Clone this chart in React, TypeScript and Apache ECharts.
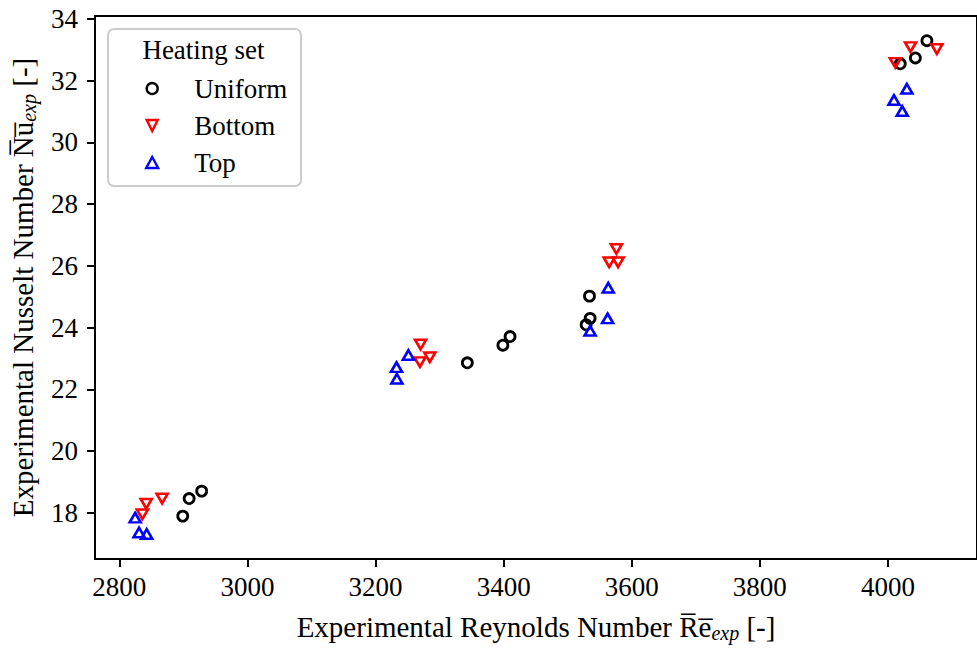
import React, { useEffect, useRef } from "react";
import * as echarts from "echarts";

const xTicks = [2800, 3000, 3200, 3400, 3600, 3800, 4000];
const yTicks = [18, 20, 22, 24, 26, 28, 30, 32, 34];

const reUniform = [2928.5, 2909, 2899, 3343.3, 3398.8, 3410, 3534, 3535, 3528.8, 4060.8, 4042.8, 4019.2];
const nuUniform = [18.7, 18.46, 17.89, 22.86, 23.43, 23.71, 25.02, 24.3, 24.09, 33.3, 32.74, 32.55];

const reBottom = [2866.8, 2842, 2836, 3270.3, 3269.3, 3284.7, 3576, 3564.8, 3578.7, 4035.2, 4076.3, 4011.5];
const nuBottom = [18.46, 18.29, 17.95, 23.45, 22.88, 23.04, 26.55, 26.12, 26.12, 33.09, 33.03, 32.58];

const reTop = [2824.7, 2830.8, 2842.7, 3251.3, 3232.7, 3233.3, 3563.3, 3562.3, 3535, 4029.5, 4009.4, 4022.3];
const nuTop = [17.84, 17.36, 17.31, 23.11, 22.72, 22.34, 25.29, 24.3, 23.9, 31.74, 31.38, 31.02];

const FONT = "Liberation Serif";
const FS = 27;
const NFS = 29;

function pairs(xs: number[], ys: number[]) {
  return xs.map((x, i) => [x, ys[i]]);
}

export default function App() {
  const ref = useRef<HTMLDivElement>(null);
  useEffect(() => {
    document.body.style.margin = "0";
    const chart = echarts.init(ref.current!, null, { renderer: "svg" });
    const sub = { fontFamily: FONT, fontSize: 20, fontStyle: "italic" as const, padding: [13, 0, 0, 0] };
    const main = { fontFamily: FONT, fontSize: NFS };
    chart.setOption({
      animation: false,
      backgroundColor: "#ffffff",
      grid: {
        left: 95,
        top: 16,
        width: 892,
        height: 547,
        show: true,
        borderColor: "#000",
        borderWidth: 2,
        backgroundColor: "transparent",
      },
      xAxis: {
        type: "value",
        min: 2762,
        max: 4139,
        splitLine: { show: false },
        axisLine: { show: true, lineStyle: { color: "#000", width: 2 } },
        axisTick: { show: true, length: 8, lineStyle: { color: "#000", width: 2 }, customValues: xTicks },
        axisLabel: {
          customValues: xTicks,
          margin: 14,
          color: "#000",
          fontFamily: FONT,
          fontSize: FS,
          formatter: (v: number) => String(v),
        },
        name: "{m|Experimental Reynolds Number R\u0305e\u0305}{s|exp}{m| [-]}",
        nameLocation: "middle",
        nameGap: 51,
        nameTextStyle: { rich: { m: main, s: sub }, color: "#000" },
      },
      yAxis: {
        type: "value",
        min: 16.5,
        max: 34.1,
        splitLine: { show: false },
        axisLine: { show: true, lineStyle: { color: "#000", width: 2 } },
        axisTick: { show: true, length: 8, lineStyle: { color: "#000", width: 2 }, customValues: yTicks },
        axisLabel: {
          customValues: yTicks,
          margin: 17,
          color: "#000",
          fontFamily: FONT,
          fontSize: FS,
          formatter: (v: number) => String(v),
        },
        name: "{m|Experimental Nusselt Number N\u0305u\u0305}{s|exp}{m| [-]}",
        nameLocation: "middle",
        nameGap: 56,
        nameTextStyle: { rich: { m: main, s: sub }, color: "#000" },
      },
      legend: {
        orient: "vertical",
        left: 140,
        top: 70,
        itemWidth: 12,
        itemHeight: 11,
        itemGap: 10,
        z: 5,
        itemStyle: { borderWidth: 2.4, color: "transparent" },
        textStyle: { fontFamily: FONT, fontSize: FS, color: "#000", padding: [0, 0, 0, 31], lineHeight: 27 },
        data: ["Uniform", "Bottom", "Top"],
      },
      graphic: [
        {
          type: "rect",
          z: 3,
          shape: { x: 108, y: 29, width: 193, height: 157, r: 6 },
          style: { fill: "rgba(255,255,255,0.8)", stroke: "#cccccc", lineWidth: 2 },
        },
        {
          type: "text",
          z: 5,
          x: 203.5,
          y: 50,
          style: {
            text: "Heating set",
            fill: "#000",
            font: `${FS}px "${FONT}"`,
            textAlign: "center",
            textVerticalAlign: "middle",
          },
        },
      ],
      series: [
        {
          name: "Uniform",
          type: "scatter",
          symbol: "circle",
          symbolSize: 10,
          itemStyle: { color: "transparent", borderColor: "#000000", borderWidth: 2.8, opacity: 1 },
          data: pairs(reUniform, nuUniform),
        },
        {
          name: "Bottom",
          type: "scatter",
          symbol: "path://M0,0L2,0L1,2Z",
          symbolSize: [11, 9.5],
          itemStyle: { color: "transparent", borderColor: "#ff0000", borderWidth: 2.6, opacity: 1 },
          data: pairs(reBottom, nuBottom),
        },
        {
          name: "Top",
          type: "scatter",
          symbol: "triangle",
          symbolSize: [11, 9.5],
          itemStyle: { color: "transparent", borderColor: "#0000ff", borderWidth: 2.6, opacity: 1 },
          data: pairs(reTop, nuTop),
        },
      ],
    });
    return () => chart.dispose();
  }, []);
  return <div ref={ref} style={{ width: 977, height: 648 }} />;
}
